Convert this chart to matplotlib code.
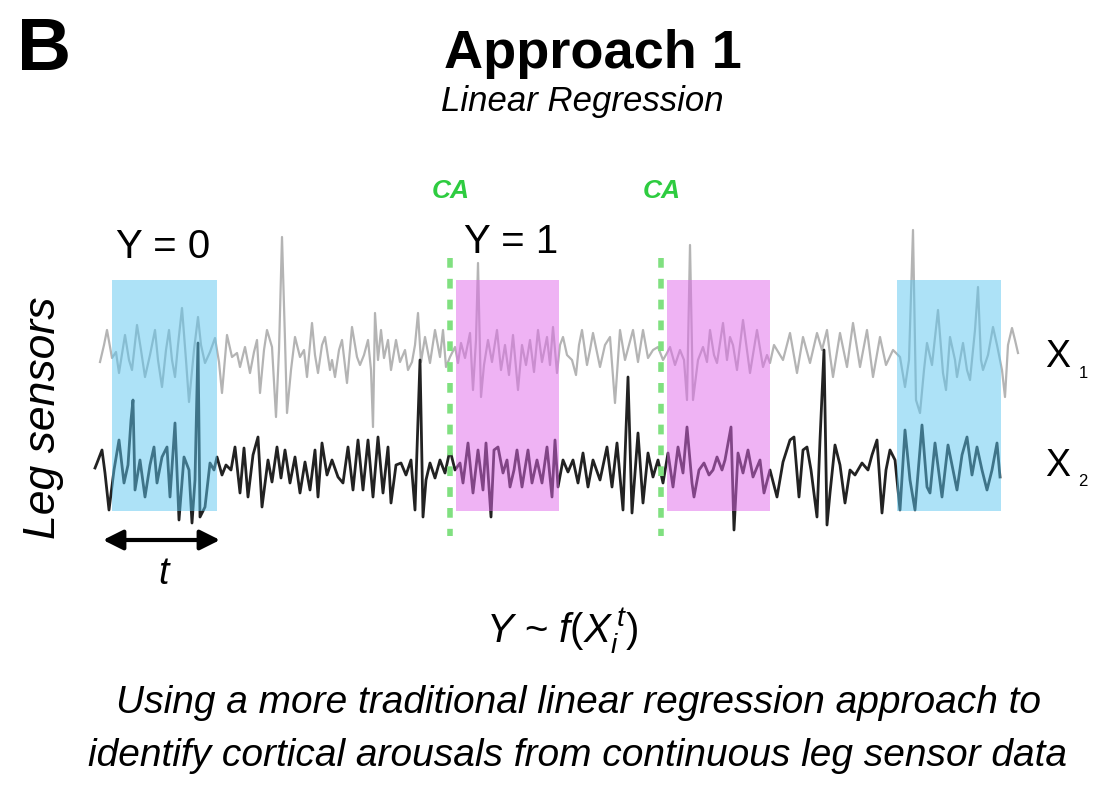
import matplotlib.pyplot as plt
from matplotlib.patches import Rectangle

plt.rcParams["font.family"] = ["Liberation Sans", "DejaVu Sans"]
plt.rcParams["mathtext.fontset"] = "custom"
plt.rcParams["mathtext.rm"] = "Liberation Sans"
plt.rcParams["mathtext.it"] = "Liberation Sans:italic"
plt.rcParams["lines.scale_dashes"] = False

# leg sensor traces: (time, amplitude)
x1_samples = [
    (100, -7), (104, 10), (107, 25), (112, -3), (116, 3), (119, -18), (125, 20), (129, -5),
    (132, -15), (137, 30), (141, 5), (145, -22), (150, 0), (155, 25), (158, -5), (162, -32),
    (166, 5), (169, 25), (172, -5), (175, -22), (178, 10), (182, 47), (186, -5), (189, -47),
    (194, 5), (198, 38), (201, 10), (205, -8), (210, 3), (215, 17), (219, -7), (222, -38),
    (227, 20), (232, -2), (237, 2), (240, -12), (245, 8), (250, -18), (254, 3), (257, 15),
    (260, -38), (264, 5), (267, 25), (272, 8), (276, -62), (279, 5), (282, 118), (285, 15),
    (287, -58), (291, -15), (295, 18), (300, -2), (304, 5), (307, -22), (312, 32), (315, 0),
    (318, -18), (322, 10), (325, 18), (330, -15), (332, -5), (335, -22), (339, 5), (342, 15),
    (347, -28), (352, 28), (357, -2), (360, -10), (364, 0), (368, 15), (371, -15), (373, -72),
    (375, 42), (378, -5), (381, 25), (384, -3), (388, 15), (391, -15), (396, 15), (400, -7),
    (405, 5), (408, -15), (412, -7), (415, 10), (418, 42), (421, -7), (425, 18), (430, -8),
    (435, 25), (440, -2), (443, 25), (446, -12), (450, -2), (455, 8), (458, -8), (461, 12),
    (465, -3), (470, 22), (473, -35), (476, 15), (478, 92), (481, -42), (484, -10), (488, 15),
    (492, -7), (497, 25), (501, -15), (505, 10), (509, -20), (513, 20), (518, -35), (522, 10),
    (526, -10), (530, 15), (534, -17), (538, 25), (542, -7), (547, 18), (550, -10), (553, 28),
    (557, -18), (560, 10), (563, 18), (567, 0), (572, -5), (576, -20), (579, 10), (582, 25),
    (587, -10), (590, 5), (593, 22), (600, -12), (605, 10), (610, 18), (615, -48), (620, 25),
    (625, -5), (629, 10), (633, 25), (638, -7), (643, 25), (648, -3), (653, 5), (658, 8),
    (663, -5), (667, 2), (670, 8), (675, -10), (680, 5), (684, -5), (687, -45), (690, 110),
    (693, -45), (698, -5), (703, 8), (707, -7), (710, 25), (714, 0), (717, -8), (723, 32),
    (727, -5), (730, 18), (733, 10), (737, -15), (743, 35), (747, 5), (750, -18), (757, 25),
    (763, -12), (767, 0), (770, -8), (774, 10), (777, 5), (783, -5), (790, 22), (797, -18),
    (803, 18), (807, 3), (810, -8), (817, 22), (822, 5), (827, 25), (830, 0), (833, -22),
    (840, 22), (847, -12), (853, 32), (860, -12), (867, 25), (873, -22), (880, 18), (886, -10),
    (893, 5), (900, -2), (905, -32), (909, -5), (913, 125), (916, -45), (920, -58), (924, -15),
    (927, 12), (932, -10), (938, 45), (943, -18), (946, -35), (950, 18), (955, -5), (957, -22),
    (963, 12), (967, -15), (970, -25), (975, 25), (978, 68), (981, -5), (983, -15), (988, 0),
    (993, 28), (997, 10), (1002, -15), (1005, -42), (1008, 10), (1012, 27), (1015, 15), (1018, 2),
]

x2_samples = [
    (95, -3), (97, 2), (102, 15), (105, -8), (109, -45), (114, -5), (119, 25), (124, -18),
    (128, 0), (131, 45), (133, 65), (135, -25), (140, 5), (145, -32), (150, 0), (154, 18),
    (157, -18), (162, 8), (167, 18), (170, -32), (175, 42), (179, -55), (184, 8), (189, -5),
    (192, -58), (195, -15), (198, 122), (200, -52), (205, -42), (210, 2), (214, -5), (217, 8),
    (222, -10), (226, 0), (231, -5), (235, 18), (240, -28), (244, 17), (248, -32), (253, 10),
    (258, 28), (262, -42), (268, 5), (272, -17), (277, 18), (281, -13), (285, 15), (290, -18),
    (295, 8), (300, -28), (305, 3), (310, -25), (315, 15), (318, -32), (322, 22), (327, -10),
    (332, 5), (338, -12), (343, -18), (348, 18), (353, -25), (358, 25), (363, -25), (368, 25),
    (373, -32), (378, 28), (383, -28), (388, 18), (391, -38), (396, 0), (401, 2), (406, -10),
    (411, 5), (415, -45), (418, 45), (420, 105), (423, -52), (426, -15), (430, 2), (435, -13),
    (440, 5), (445, -8), (450, 15), (455, -5), (460, 2), (463, -18), (468, 22), (473, -28),
    (478, 15), (483, -25), (486, 22), (491, -52), (494, 15), (498, 18), (503, -8), (507, 5),
    (510, -22), (514, -5), (517, 15), (522, -22), (528, 15), (532, -18), (537, 5), (542, -18),
    (547, 18), (552, -32), (555, 25), (558, -22), (563, 5), (568, -7), (573, 5), (578, -18),
    (583, 12), (588, -22), (593, 5), (600, -15), (607, 18), (612, -22), (617, 22), (623, -45),
    (628, 88), (632, -48), (638, 32), (643, -38), (648, 12), (653, -12), (658, 5), (663, -18),
    (668, 12), (673, -22), (678, 18), (683, -8), (687, 38), (692, -18), (694, -32), (699, -5),
    (704, 2), (709, -10), (713, -5), (717, 8), (722, -5), (725, 5), (731, 38), (734, -65),
    (738, 12), (743, -8), (748, 15), (753, -12), (760, 5), (764, -28), (770, -5), (777, -32),
    (783, 3), (790, 25), (794, 28), (799, -32), (803, 15), (807, 18), (811, -5), (817, -52),
    (820, 25), (824, 115), (827, -60), (830, -28), (835, 20), (840, 0), (845, -38), (850, -5),
    (855, -10), (862, 2), (868, -5), (872, 10), (877, 25), (882, -48), (886, -5), (890, 15),
    (895, 5), (900, -45), (905, 35), (910, -15), (915, -45), (922, 40), (927, -22), (930, -28),
    (935, 22), (942, -32), (948, 20), (953, -5), (957, -25), (962, 10), (967, 28), (972, -10),
    (977, 18), (982, -5), (987, -25), (992, -5), (997, 22), (1000, -12),
]

# labelled windows (start, end) and their class
windows = [(112, 217), (456, 559), (667, 770), (897, 1001)]
window_labels = [0, 1, 1, 0]
ca_onsets = [450, 661]

X1_BASE = 355
X2_BASE = 465
WIN_COLORS = {0: (0.36, 0.78, 0.94), 1: (0.88, 0.41, 0.92)}

fig = plt.figure(figsize=(11.07, 7.93), dpi=100)
ax = fig.add_axes([0, 0, 1, 1])
ax.set_xlim(0, 1107)
ax.set_ylim(793, 0)
ax.axis("off")

t1, v1 = zip(*x1_samples)
t2, v2 = zip(*x2_samples)
ax.plot(t1, [X1_BASE - v for v in v1], color="#b4b4b4", lw=1.6, zorder=2)
ax.plot(t2, [X2_BASE - v for v in v2], color="#222222", lw=2.0, zorder=2)

for (start, end), label in zip(windows, window_labels):
    ax.add_patch(Rectangle((start, 280), end - start, 231, facecolor=WIN_COLORS[label],
                           edgecolor="none", alpha=0.5, zorder=3))

for x in ca_onsets:
    ax.plot([x, x], [258, 536], color="#80e080", lw=4, dashes=(7, 8), zorder=4)
    ax.text(x + 1, 191, "CA", color="#2ecc40", fontsize=19, fontweight="bold",
            style="italic", ha="center", va="center")

ax.text(163, 247, "Y = 0", fontsize=29, ha="center", va="center")
ax.text(511, 242, "Y = 1", fontsize=29, ha="center", va="center")
ax.text(1058, 357, "X", fontsize=27, ha="center", va="center")
ax.text(1083, 373, "1", fontsize=12, ha="center", va="center")
ax.text(1058, 466, "X", fontsize=27, ha="center", va="center")
ax.text(1083, 482, "2", fontsize=12, ha="center", va="center")
ax.text(44, 418, "Leg sensors", fontsize=32, style="italic", rotation=90,
        ha="center", va="center")

ax.annotate("", xy=(103, 540), xytext=(220, 540),
            arrowprops=dict(arrowstyle="<|-|>", lw=3, color="black", mutation_scale=30,
                            shrinkA=0, shrinkB=0))
ax.text(163, 574, "t", fontsize=27, style="italic", ha="center", va="center")

ax.text(44, 50, "B", fontsize=54, fontweight="bold", ha="center", va="center")
ax.text(593, 54, "Approach 1", fontsize=39, fontweight="bold", ha="center", va="center")
ax.text(582, 102, "Linear Regression", fontsize=25, style="italic", ha="center", va="center")

ax.text(562, 631, r"$Y$ ~ $f(X_i^{\,t})$", fontsize=29, ha="center", va="center")
ax.text(579, 703, "Using a more traditional linear regression approach to",
        fontsize=28, style="italic", ha="center", va="center")
ax.text(578, 756, "identify cortical arousals from continuous leg sensor data",
        fontsize=28, style="italic", ha="center", va="center")

fig.savefig("out.png", dpi=100, facecolor="white")
